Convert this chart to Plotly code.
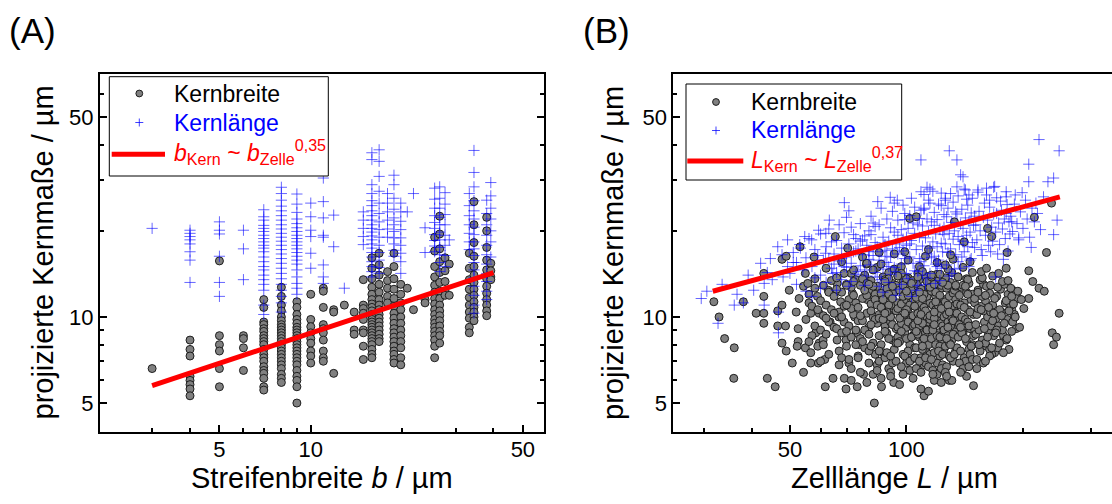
import plotly.graph_objects as go

FONT = "Arial, Liberation Sans, sans-serif"
W, H = 1112, 504

# ---------------- Panel A data (stripe width b in um) ----------------
a_widths = [3, 4, 5, 6, 7, 8, 9, 10, 11, 11.9, 12.9, 13.9, 14.9, 15.9, 16.8, 17.9,
            18.8, 19.8, 20.8, 21.8, 23.8, 25.6, 26.6, 27.7, 28.6, 33.3, 34.5, 38.0, 39.2]

a_kernbreite = [
    [6.6],
    [8.3, 7.7, 7.3, 6.2, 6.0, 5.8, 5.6, 5.3],
    [15.7, 8.6, 8.0, 7.6, 6.6, 5.7],
    [8.6, 8.4, 7.8, 6.5],
    [11.5, 10.8, 9.6, 9.4, 9.1, 8.9, 8.6, 8.4, 8.2, 8.0, 7.7, 7.4, 7.2, 7.0, 6.7, 6.5, 6.35, 6.1, 5.7, 5.55],
    [12.7, 11.8, 11.0, 10.5, 10.0, 9.7, 9.4, 9.2, 9.0, 8.8, 8.6, 8.4, 8.2, 8.0, 7.8, 7.6, 7.4, 7.2, 7.0, 6.8, 6.6, 6.3, 6.1, 5.9],
    [11.3, 10.8, 10.2, 9.8, 9.5, 9.2, 9.0, 8.8, 8.6, 8.4, 8.2, 8.0, 7.8, 7.6, 7.4, 7.2, 7.0, 6.8, 6.5, 6.2, 6.0, 5.7, 5.0],
    [12.0, 9.8, 9.25, 8.8, 8.4, 8.1, 7.6, 7.3, 6.9],
    [12.6, 12.3, 10.8, 9.4, 9.1, 8.8, 8.3, 7.6, 7.2, 7.0],
    [10.6, 10.4, 6.35],
    [11.0],
    [10.4, 9.0, 8.7],
    [13.5, 11.0, 10.7, 10.3, 9.8, 9.0, 8.8, 7.9, 7.1],
    [16.1, 14.8, 13.6, 12.7, 12.0, 11.5, 11.1, 10.8, 10.5, 10.2, 10.0, 9.8, 9.6, 9.4, 9.2, 9.0, 8.8, 8.6, 8.4, 8.2, 8.0, 7.7, 7.4, 7.2],
    [16.7, 15.2, 14.0, 13.0, 12.2, 11.5, 11.0, 10.6, 10.2, 9.9, 9.6, 9.3, 9.0, 8.7, 8.4, 8.2],
    [14.4, 13.4, 12.6, 11.8, 11.2],
    [16.7, 15.0, 13.6, 12.5, 11.6, 10.9, 10.3, 9.9, 9.5, 9.1, 8.8, 8.5, 8.2, 7.9, 7.6, 7.4, 7.1, 6.9],
    [13.0, 12.0, 11.2, 10.6, 10.0, 9.5, 9.0, 8.6, 8.2, 7.8, 7.2, 6.8],
    [12.6],
    [10.6],
    [11.5, 11.2],
    [19.0, 17.0, 15.0, 13.8, 12.9, 12.2, 11.6, 11.1, 10.6, 10.2, 9.8, 9.5, 9.2, 8.9, 8.6, 8.3, 7.9, 7.2],
    [22.5, 19.5, 17.3, 15.6, 14.3, 13.2, 12.3, 11.6, 11.0, 10.5, 10.1, 9.7, 9.3, 8.9, 8.6, 8.1],
    [16.1, 14.5, 13.3, 12.3, 11.9],
    [15.3, 11.9],
    [16.7, 14.8, 13.5, 12.5, 11.7, 11.0, 10.4, 9.9, 9.2, 8.8],
    [25.3, 21.0, 18.2, 16.3, 15.0, 14.0, 13.2, 12.5, 11.9, 11.3, 10.8, 10.4, 10.0, 9.7],
    [22.3, 20.0, 17.5, 15.8, 14.6, 13.6, 12.8, 12.1, 11.5, 11.0, 10.5, 10.1],
    [15.4, 14.5, 13.8, 13.5],
]

a_kernlaenge = [
    [20.4],
    [20.1, 19.6, 19.1, 18.6, 18.0, 16.9, 15.8, 13.2],
    [21.5, 20.1, 19.5, 16.3, 13.2, 11.8],
    [20.1, 17.3, 13.5],
    [23.7, 22.4, 21.8, 20.9, 20.4, 19.9, 19.3, 18.8, 18.3, 17.8, 17.4, 16.9, 16.2, 15.6, 15.0, 14.6, 14.0, 13.5, 13.0, 12.4, 11.0, 10.2],
    [28.4, 27.0, 25.6, 24.4, 23.5, 22.6, 21.8, 21.0, 20.3, 19.6, 19.0, 18.4, 17.8, 17.2, 16.6, 16.0, 15.4, 14.8, 14.2, 13.6, 13.0, 12.4, 11.8, 11.2, 10.4],
    [26.9, 24.8, 23.2, 22.0, 21.2, 20.5, 19.9, 19.3, 18.8, 18.3, 17.8, 17.3, 16.8, 16.3, 15.8, 15.3, 14.6, 13.8, 13.1, 12.6, 12.0],
    [25.0, 22.4, 20.1, 19.1, 16.7, 14.8],
    [30.6, 25.3, 22.2, 19.3, 19.0, 15.2, 13.8, 13.1],
    [22.7, 17.6],
    [12.6],
    [],
    [23.3, 21.8, 20.4, 19.1, 17.9],
    [37.5, 35.5, 29.0, 27.0, 25.5, 24.5, 23.5, 22.6, 21.8, 21.0, 20.4, 19.8, 19.2, 18.6, 18.0, 17.4, 16.8, 16.2, 15.6, 15.0, 14.4, 13.8],
    [38.4, 35.0, 31.0, 27.5, 25.0, 23.0, 21.5, 20.2, 19.0, 17.8, 16.8, 15.8, 14.9, 14.2],
    [27.0, 25.0, 23.3, 21.8, 20.3, 19.0],
    [31.3, 29.0, 26.0, 23.8, 22.2, 21.0, 19.9, 18.9, 18.0, 17.1, 16.3],
    [25.0, 23.3, 21.6, 20.2, 18.9, 17.8, 16.7, 15.6, 14.2],
    [23.3],
    [27.0],
    [20.5, 16.8],
    [28.2, 25.8, 24.0, 22.6, 21.4, 20.4, 19.4, 18.5, 17.7, 16.9],
    [28.5, 26.0, 24.0, 22.3, 21.0, 19.8, 18.6, 17.5, 16.5, 15.5, 14.4],
    [27.2, 24.8, 22.8, 21.0, 19.3, 17.8, 16.4, 15.0],
    [18.6],
    [27.0, 24.5, 22.6, 21.0, 19.6, 18.3, 17.2],
    [38.2, 32.0, 28.5, 25.5, 23.5, 22.0, 20.6, 19.4, 18.3, 17.3, 16.4, 15.5, 14.6, 13.7, 12.8, 11.9, 11.0, 10.3],
    [25.6, 23.0, 21.0, 19.3, 17.8, 16.5, 15.3, 14.2, 13.3, 12.3, 11.5],
    [29.5, 26.5, 24.0, 22.0, 20.0, 18.3, 16.2],
]

a_fit_x = [3.0, 40.0]
a_fit_y = [5.75, 14.3]

# ---------------- Panel B data (cell length L in um) ----------------
b_breite_L = [
    31.8, 32.8, 33.9, 35.9, 35.8, 37.9, 40.9, 42.8, 42.8, 42.8, 42.8, 43.7, 45.8, 46.5, 46.5, 47.7, 47.7, 48.9,
    47.7, 48.9, 49.8, 48.7, 51.9, 52.5, 52.2, 50.7, 53.1, 52.8, 52.5, 54.2, 54.8, 54.2, 54.8, 55.6, 56.0, 56.6,
    56.6, 56.6, 57.7, 58.3, 58.9, 59.5, 59.5, 60.9, 59.2, 61.5, 61.7, 63.5, 62.8, 64.6, 65.5, 66.2, 66.2, 67.6,
    66.9, 69.1, 69.8, 69.8, 70.5, 71.0, 72.0, 72.5, 73.5, 74.3, 74.6, 75.6, 77.5, 78.8, 79.2, 82.6, 84.3, 86.2,
    87.0, 88.9, 92.7, 102, 106, 111, 118, 129, 143, 149, 133, 141, 162, 166, 169, 167, 162, 181, 182, 187, 187,
    192, 195, 207, 212, 220, 227, 207, 214, 230, 237, 248, 238, 244, 240,
    55, 56, 57, 57, 58, 58, 59, 60, 60, 61, 61, 62, 62, 63, 63, 64, 64, 65, 56, 59, 60, 62, 63, 58, 61,
    65, 66, 66, 67, 67, 68, 68, 69, 69, 70, 70, 71, 71, 72, 72, 73, 73, 74, 74, 75, 66, 68, 70, 72, 74, 67, 69,
    71, 73, 75, 65, 70, 72, 68, 74,
    75, 76, 76, 77, 77, 78, 78, 79, 79, 80, 80, 80, 81, 81, 82, 82, 83, 83, 84, 84, 85, 85, 76, 77, 78, 79, 80,
    81, 82, 83, 84, 85, 75, 77, 79, 81, 83, 85, 76, 78, 80, 82, 84, 79, 81,
    85, 86, 86, 87, 87, 88, 88, 88, 89, 89, 90, 90, 90, 91, 91, 92, 92, 92, 93, 93, 94, 94, 95, 95, 86, 87, 88,
    89, 90, 91, 92, 93, 94, 95, 86, 88, 90, 92, 94, 87, 89, 91, 93, 95, 85, 90, 92, 88, 94, 91,
    95, 96, 96, 97, 97, 98, 98, 98, 99, 99, 100, 100, 100, 101, 101, 102, 102, 102, 103, 103, 104, 104, 105, 105,
    96, 97, 98, 99, 100, 101, 102, 103, 104, 105, 96, 98, 100, 102, 104, 97, 99, 101, 103, 105, 95, 100, 102, 98,
    104, 101, 97, 103, 99, 100, 105,
    105, 106, 106, 107, 107, 108, 108, 108, 109, 109, 110, 110, 110, 111, 111, 112, 112, 112, 113, 113, 114, 114,
    115, 115, 106, 107, 108, 109, 110, 111, 112, 113, 114, 115, 106, 108, 110, 112, 114, 107, 109, 111, 113, 115,
    105, 110, 112, 108, 114, 111, 107, 113, 109, 110, 106,
    115, 116, 116, 117, 117, 118, 118, 119, 119, 120, 120, 120, 121, 121, 122, 122, 123, 123, 124, 124, 125, 125,
    116, 117, 118, 119, 120, 121, 122, 123, 124, 125, 116, 118, 120, 122, 124, 117, 119, 121, 123, 125, 115, 120,
    122, 118, 124, 121, 119, 123,
    125, 126, 126, 127, 127, 128, 128, 129, 129, 130, 130, 131, 131, 132, 132, 133, 133, 134, 134, 135, 126, 127,
    128, 129, 130, 131, 132, 133, 134, 135, 126, 128, 130, 132, 134, 127, 129, 131, 133, 135, 130, 128,
    135, 136, 137, 137, 138, 139, 139, 140, 141, 141, 142, 143, 143, 144, 145, 145, 146, 147, 148, 149, 150, 136,
    138, 140, 142, 144, 146, 148, 150, 137, 139, 141, 143, 145, 147, 149, 140, 144, 146, 138, 142, 148,
    150, 151, 152, 153, 154, 155, 156, 157, 158, 159, 160, 161, 162, 163, 164, 165, 166, 167, 168, 170, 152, 155,
    158, 161, 164, 167, 153, 157, 160, 165,
    171, 173, 175, 176, 178, 180, 182, 183, 185, 187, 190, 193, 172, 177, 179, 184, 188, 174, 181, 186,
    151, 153, 154, 156, 157, 159, 160, 162, 163, 165, 166, 168, 169, 171, 172, 174, 176, 177, 179, 181, 182, 184,
    186, 188, 189, 191, 194, 196, 198, 201, 156, 161, 167, 173, 178, 183, 187, 158, 164, 170,
    62, 68, 73, 77, 82, 86, 90, 93, 97, 101, 104, 108, 112, 116, 120, 124, 128, 132, 136, 140, 144, 148, 80, 88,
    95, 103, 110, 118, 126, 134, 142, 70, 85, 99, 114, 130, 146, 92, 107, 122,
    72, 79, 84, 91, 96, 104, 109, 117, 123, 131, 138, 145, 152, 160, 114, 127,
]
b_kernbreite = [
    11.3, 10.0, 8.4, 7.8, 6.1, 11.3, 10.3, 10.3, 9.5, 11.8, 14.2, 6.1, 5.7, 10.5, 9.3, 11.0, 15.9, 16.3,
    8.1, 7.6, 12.4, 9.3, 10.4, 8.2, 7.9, 6.9, 17.6, 11.6, 9.1, 12.8, 14.2, 6.4, 7.8, 13.1, 11.2, 10.3,
    7.5, 6.9, 16.2, 8.8, 11.8, 10.3, 8.1, 8.3, 6.9, 7.1, 5.7, 9.6, 12.4, 6.1, 19.1, 13.1, 8.3, 11.3,
    10.0, 6.1, 5.6, 8.3, 17.4, 6.9, 14.2, 12.1, 10.0, 8.8, 5.7, 8.0, 6.3, 15.3, 11.5, 5.0, 12.8, 5.7,
    7.5, 8.8, 5.9, 22.1, 22.4, 5.3, 6.0, 6.0, 6.2, 5.75, 21.5, 18.3, 20.4, 19.1, 7.5, 8.8, 9.0, 14.8, 16.8, 10.6, 9.7,
    9.1, 11.6, 14.5, 13.3, 12.6, 12.3, 11.6, 22.3, 16.8, 25.0, 10.3, 8.8, 8.5, 8.0,
    9.8, 12.0, 8.6, 10.9, 9.3, 12.6, 7.9, 11.4, 9.0, 10.1, 12.9, 8.7, 11.0, 9.6, 7.4, 10.6, 13.4, 9.2, 8.2, 10.6,
    7.0, 9.9, 12.2, 13.6, 8.0,
    11.8, 9.1, 13.7, 10.4, 7.6, 12.2, 8.8, 10.9, 9.6, 13.0, 7.9, 11.5, 9.3, 12.7, 8.5, 10.2, 14.6, 9.0, 11.2, 7.3,
    12.5, 10.0, 8.9, 10.7, 13.5, 6.8, 14.2, 7.1, 11.9, 9.7, 10.3, 11.0, 6.6, 7.2, 8.0,
    10.8, 8.4, 12.9, 9.7, 11.6, 7.8, 14.0, 10.3, 8.9, 12.3, 9.2, 6.9, 11.1, 13.4, 8.1, 10.0, 12.0, 7.4, 9.5, 14.9,
    11.3, 8.6, 6.4, 13.6, 9.0, 11.9, 7.6, 10.5, 12.8, 9.8, 6.8, 10.2, 7.2, 8.2, 13.1, 9.4, 11.5, 7.0, 10.1, 12.4,
    8.7, 6.3, 11.0, 15.4, 7.9,
    9.9, 12.1, 8.0, 10.6, 13.8, 9.3, 11.4, 7.2, 12.6, 8.7, 10.2, 14.3, 6.6, 9.6, 11.8, 8.3, 13.1, 10.9, 7.7, 12.2,
    9.1, 10.5, 11.2, 8.5, 6.1, 9.8, 13.5, 7.5, 11.0, 10.0, 6.9, 12.8, 8.1, 13.9, 10.8, 8.9, 12.0, 9.4, 7.0, 11.5,
    10.4, 6.4, 14.7, 9.2, 7.6, 8.4, 11.6, 10.3, 12.9, 7.3,
    10.7, 8.2, 12.4, 9.5, 11.1, 7.4, 13.2, 10.0, 8.8, 12.0, 9.2, 11.5, 6.9, 10.4, 13.7, 8.0, 9.8, 12.7, 7.1, 11.3,
    10.1, 8.6, 12.2, 9.0, 14.5, 6.7, 11.8, 10.2, 8.4, 7.6, 11.0, 9.4, 13.0, 7.8, 9.9, 12.9, 10.6, 6.5, 11.6, 8.9,
    7.3, 9.6, 12.5, 10.9, 8.1, 13.6, 7.0, 6.3, 9.3, 11.9, 15.0, 8.5, 10.3, 12.3, 7.2,
    9.4, 11.7, 7.8, 10.3, 12.8, 8.5, 9.9, 13.5, 7.2, 11.0, 10.6, 8.2, 12.4, 9.1, 6.8, 11.4, 8.8, 13.9, 10.0, 7.5,
    12.1, 9.6, 8.3, 11.2, 6.6, 14.2, 9.3, 12.5, 7.7, 10.8, 6.9, 11.8, 8.0, 9.8, 13.1, 7.0, 9.5, 10.5, 12.7, 8.7,
    6.4, 12.0, 9.0, 7.4, 10.9, 11.6, 7.2, 12.2, 6.7, 8.4, 9.7, 13.3, 10.2, 7.9, 8.9,
    10.1, 8.4, 12.3, 9.2, 11.0, 7.5, 13.0, 10.6, 8.0, 9.7, 12.0, 6.9, 11.4, 8.8, 10.3, 7.3, 12.6, 9.5, 11.1, 8.2,
    10.0, 7.7, 13.8, 6.5, 9.9, 11.8, 8.6, 10.9, 7.9, 12.9, 9.3, 11.5, 7.1, 10.4, 14.1, 8.5, 6.8, 9.0, 12.2, 7.6,
    10.7, 8.9, 12.7, 6.3, 11.9, 9.4, 7.4, 13.4, 11.3, 6.6,
    9.0, 11.3, 7.9, 10.2, 12.6, 8.6, 9.6, 11.8, 7.3, 10.8, 13.2, 8.3, 9.9, 12.1, 7.0, 10.5, 8.9, 11.5, 7.6, 9.4,
    13.7, 6.7, 12.9, 8.1, 9.3, 10.9, 8.7, 12.4, 10.0, 7.8, 6.4, 11.0, 7.2, 9.7, 12.8, 8.4, 10.4, 14.3, 7.4, 11.1,
    8.0, 9.2,
    10.3, 8.5, 11.9, 9.4, 7.6, 12.7, 10.0, 8.8, 11.2, 7.2, 9.8, 12.2, 8.2, 10.6, 7.7, 13.1, 9.1, 11.5, 8.0, 10.2,
    9.0, 13.8, 11.0, 12.9, 7.0, 9.6, 7.4, 12.0, 11.2, 6.9, 8.8, 10.8, 13.6, 9.3, 7.9, 8.6, 6.6, 12.0, 10.4, 9.2,
    8.4, 7.1,
    11.6, 8.7, 10.2, 12.4, 9.0, 7.6, 10.9, 8.3, 13.0, 9.6, 11.4, 7.9, 10.0, 8.8, 12.1, 9.3, 7.4, 11.0, 8.6, 9.8,
    7.1, 13.5, 10.5, 12.8, 7.7, 9.7, 10.7, 11.8, 8.1, 10.4,
    11.8, 9.3, 12.5, 10.4, 8.6, 11.2, 9.8, 12.0, 10.9, 8.9, 10.2, 11.6, 7.8, 9.0, 13.0, 7.7, 12.4, 10.6, 8.3, 11.0,
    9.4, 12.2, 8.0, 10.6, 13.7, 9.1, 11.9, 8.5, 10.8, 12.9, 7.8, 10.3, 11.6, 9.0, 12.7, 8.1, 10.1, 13.3, 9.5, 11.4,
    8.4, 10.5, 12.6, 9.6, 11.1, 10.0, 12.3, 9.2, 11.5, 10.7, 14.4, 14.8, 13.9, 14.2, 7.5, 13.4, 11.8, 6.9, 7.3, 8.8,
    14.8, 15.6, 13.3, 16.2, 14.6, 15.3, 13.6, 16.6, 14.2, 15.8, 13.4, 15.0, 16.3, 14.0, 15.5, 13.2, 14.7, 15.9,
    13.8, 14.9, 13.5, 14.3, 13.0, 13.3, 13.9, 13.1, 14.4, 13.0, 15.2, 12.9, 12.8, 12.9, 16.8, 16.9, 17.2, 16.5,
    15.6, 12.8, 13.8, 14.1,
    6.0, 5.9, 6.5, 6.2, 5.8, 6.1, 5.6, 6.3, 5.9, 6.0, 6.4, 6.7, 6.6, 7.0, 5.5, 6.2,
]

b_laenge_L = [
    220, 248, 129, 109, 135, 207, 207, 232, 240, 138, 245, 240, 195, 170, 33.4, 32.6, 35.9, 37.9, 42.9, 42.9,
    46.7, 46.7, 46.5, 49.3, 47.7, 49.3, 42.0, 43.7, 45.0, 40.3, 53.2, 54.6, 56.9, 59.3, 61.9, 63.2, 69.1, 61.8,
    64.5, 84.3, 90.8, 94.7, 111, 113, 109, 123, 126, 140, 145, 153, 161, 168, 181, 191, 181, 187, 171, 164,
    30.5, 29.5, 36.5, 39.0, 44.5, 48.0, 51.0,
    50, 51, 52, 52, 53, 54, 55, 55, 56, 57, 58, 58, 59, 60, 60, 61, 62, 62, 63, 64, 64, 65, 57, 60, 63,
    65, 66, 66, 67, 68, 68, 69, 70, 70, 71, 72, 72, 73, 74, 74, 75, 76, 76, 77, 78, 78, 79, 80, 80, 66, 68, 70,
    72, 74, 76, 78, 80, 67, 69, 71, 73, 75, 77, 79, 71,
    80, 81, 81, 82, 83, 83, 84, 85, 85, 86, 87, 87, 88, 89, 89, 90, 91, 91, 92, 93, 93, 94, 95, 95, 96, 97, 97,
    98, 99, 99, 100, 82, 84, 86, 88, 90, 92, 94, 96, 98, 100, 81, 85, 89, 93, 97, 83, 87, 91, 95, 99, 86, 90, 94, 98,
    100, 101, 102, 102, 103, 104, 105, 105, 106, 107, 108, 108, 109, 110, 110, 111, 112, 113, 113, 114, 115, 115,
    116, 117, 118, 118, 119, 120, 120, 121, 122, 123, 123, 124, 125, 101, 103, 105, 107, 109, 111, 113, 115, 117,
    119, 121, 123, 125, 102, 106, 110, 114, 118, 122, 104, 108, 112, 116, 120, 124, 107, 111, 119, 103, 115,
    125, 126, 127, 128, 128, 129, 130, 131, 132, 132, 133, 134, 135, 136, 136, 137, 138, 139, 140, 140, 141, 142,
    143, 144, 144, 145, 146, 147, 148, 149, 150, 127, 130, 133, 136, 139, 142, 145, 148, 126, 131, 135, 138, 143,
    147, 129, 134, 141, 146, 150,
    151, 152, 154, 155, 156, 158, 159, 160, 162, 163, 164, 166, 167, 168, 170, 171, 173, 174, 176, 177, 179, 180,
    182, 184, 185, 153, 157, 161, 165, 169, 172, 175, 178, 181, 183,
    186, 188, 190, 193, 195, 197, 200, 203, 205, 208, 211, 214, 218, 222, 226, 199, 210, 216,
]
b_kernlaenge = [
    41.7, 38.1, 38.1, 35.4, 35.4, 34.2, 29.7, 29.7, 30.6, 31.4, 21.8, 19.4, 18.9, 13.8, 13.0, 9.5, 11.0, 11.2, 13.1, 11.0,
    10.4, 8.8, 17.6, 18.6, 16.5, 15.0, 15.4, 14.3, 13.5, 12.4, 17.4, 19.1, 18.6, 20.1, 19.6, 21.8, 25.1, 16.7,
    14.2, 25.3, 26.2, 25.6, 23.8, 28.4, 27.4, 27.1, 25.6, 30.9, 26.7, 27.8, 28.2, 28.4, 27.4, 26.7, 26.3, 21.5, 23.0, 25.6,
    12.3, 11.6, 12.0, 14.0, 16.0, 13.8, 15.5,
    14.2, 16.8, 13.0, 15.5, 17.9, 14.6, 16.1, 12.3, 18.8, 15.0, 13.7, 17.2, 16.4, 14.0, 19.5, 15.8, 13.2, 17.6, 16.0,
    14.8, 18.3, 15.3, 11.8, 12.6, 20.3,
    16.6, 14.3, 18.5, 15.7, 17.4, 13.5, 19.7, 16.2, 14.9, 18.0, 15.4, 20.6, 16.9, 14.1, 18.8, 17.3, 15.1, 21.2, 16.5,
    14.6, 19.2, 17.8, 15.9, 20.0, 12.4, 16.0, 22.3, 13.3, 17.0, 18.4, 12.9, 16.9, 21.0, 15.0, 12.8, 19.4, 14.4, 18.6,
    13.9, 23.5,
    17.0, 15.2, 19.4, 16.4, 14.3, 18.2, 17.6, 15.8, 21.0, 16.9, 14.7, 19.0, 17.9, 15.5, 22.0, 18.4, 16.2, 20.5, 17.3,
    14.9, 19.8, 18.0, 16.6, 21.8, 17.5, 15.3, 20.2, 18.7, 16.0, 23.0, 19.0, 21.3, 13.8, 24.0, 16.3, 13.2, 23.4, 14.4,
    12.5, 24.6, 14.2, 22.5, 12.8, 17.1, 25.0, 13.0, 20.7, 12.2, 14.1, 19.3, 21.9, 13.5, 15.0, 11.9, 17.0,
    17.8, 20.4, 16.2, 22.6, 18.5, 15.4, 19.6, 24.2, 17.2, 21.0, 16.0, 19.0, 23.6, 17.7, 20.8, 15.1, 18.9, 22.0, 16.6,
    19.9, 17.4, 25.0, 21.5, 18.3, 16.3, 23.2, 19.5, 17.6, 21.9, 15.8, 20.3, 18.1, 24.5, 16.9, 19.4, 13.6, 26.0, 14.5,
    12.9, 15.6, 26.8, 13.7, 14.2, 27.5, 13.1, 24.8, 14.8, 22.8, 18.0, 12.4, 14.0, 25.6, 20.9, 13.4, 21.3, 22.1, 13.0,
    16.1, 15.0, 20.0, 14.4, 24.0, 15.3, 11.8, 28.0,
    20.6, 18.0, 22.4, 16.8, 24.0, 19.6, 17.3, 21.4, 18.7, 25.2, 20.0, 16.5, 22.9, 19.1, 26.5, 17.9, 21.1, 23.8, 18.4,
    20.4, 16.9, 22.2, 19.3, 24.6, 17.6, 21.6, 19.8, 23.1, 18.2, 20.9, 22.5, 15.2, 27.0, 14.7, 15.6, 16.2, 27.8, 15.0,
    26.0, 26.0, 14.2, 28.5, 14.8, 25.8, 16.0, 13.9, 23.3, 28.0, 15.8, 17.5,
    21.0, 18.6, 23.4, 20.0, 17.2, 22.3, 25.0, 19.3, 21.8, 17.8, 24.2, 20.6, 18.4, 22.9, 19.8, 26.1, 21.3, 17.9, 23.6,
    20.3, 22.0, 18.8, 24.7, 21.5, 19.5, 27.3, 16.4, 26.7, 16.9, 28.6, 16.6, 25.4, 15.9, 23.0, 17.0,
    22.5, 19.9, 24.8, 21.2, 18.6, 23.3, 20.4, 25.6, 22.0, 19.0, 24.0, 21.5, 23.0, 20.2, 26.3, 27.2, 17.5, 25.0,
]

b_fit_x = [31.6, 249.0]
b_fit_y = [12.3, 26.3]

# axis ticks
a_x_ticks = [5, 10, 50]
a_x_minor = [3, 4, 6, 7, 8, 9, 20, 30, 40]
b_x_ticks = [50, 100]
b_x_minor = [30, 40, 60, 70, 80, 90, 200, 300]
y_ticks = [5, 10, 50]
y_minor = [6, 7, 8, 9, 20, 30, 40, 60]

# legend texts
leg_labels = ["Kernbreite", "Kernlänge"]
fit_label_a = "<i>b</i><sub>Kern</sub> ~ <i>b</i><sub>Zelle</sub><sup>0,35</sup>"
fit_label_b = "<i>L</i><sub>Kern</sub> ~ <i>L</i><sub>Zelle</sub><sup>0,37</sup>"

# ---------------- build flat series for panel A ----------------
a_x_circ, a_y_circ, a_x_plus, a_y_plus = [], [], [], []
for w, vals in zip(a_widths, a_kernbreite):
    a_x_circ += [w] * len(vals)
    a_y_circ += vals
for w, vals in zip(a_widths, a_kernlaenge):
    a_x_plus += [w] * len(vals)
    a_y_plus += vals

n1 = min(len(b_breite_L), len(b_kernbreite))
n2 = min(len(b_laenge_L), len(b_kernlaenge))

GRAY_FILL, GRAY_EDGE = "#808080", "#1e1e1e"
BLUE = "rgba(0,0,255,0.6)"
GRAY = dict(symbol="circle", size=8, color=GRAY_FILL, line=dict(color=GRAY_EDGE, width=1))
PLUS = dict(symbol="cross-thin", size=8, color=BLUE, line=dict(color=BLUE, width=1))

fig = go.Figure()


def add_panel(xa, ya, xc, yc, xp, yp, fx, fy):
    fig.add_trace(go.Scatter(x=xc, y=yc, mode="markers", marker=GRAY, name="Kernbreite",
                             xaxis=xa, yaxis=ya, showlegend=False))
    fig.add_trace(go.Scatter(x=xp, y=yp, mode="markers", marker=PLUS, name="Kernlänge",
                             xaxis=xa, yaxis=ya, showlegend=False))
    fig.add_trace(go.Scatter(x=fx, y=fy, mode="lines", line=dict(color="#ff0000", width=5),
                             name="Fit", xaxis=xa, yaxis=ya, showlegend=False))


add_panel("x", "y", a_x_circ, a_y_circ, a_x_plus, a_y_plus, a_fit_x, a_fit_y)
add_panel("x2", "y2", b_breite_L[:n1], b_kernbreite[:n1], b_laenge_L[:n2], b_kernlaenge[:n2], b_fit_x, b_fit_y)

tickfont = dict(family=FONT, size=22, color="black")


def axis(dom, rng, tv, minor, mirror, anchor, standoff=0):
    return dict(type="log", domain=dom, range=rng, anchor=anchor, showgrid=False, zeroline=False,
                showline=True, linecolor="black", linewidth=2, mirror=mirror,
                ticks="inside", ticklen=7, tickwidth=1.5, tickcolor="black",
                tickmode="array", tickvals=tv, ticktext=[str(v) for v in tv], tickfont=tickfont,
                ticklabelstandoff=standoff,
                minor=dict(ticks="inside", ticklen=4, tickwidth=1.5, tickcolor="black",
                           tickmode="array", tickvals=minor, showgrid=False))


ydom = [1 - 432 / H, 1 - 74 / H]
yrng = [0.5977, 1.8494]

fig.update_layout(
    width=W, height=H, autosize=False,
    margin=dict(l=0, r=0, t=0, b=0, pad=0),
    paper_bgcolor="white", plot_bgcolor="white",
    font=dict(family=FONT, color="black"),
    xaxis=axis([100 / W, 544 / W], [0.3054, 1.7686], a_x_ticks, a_x_minor, True, "y", -3),
    yaxis=axis(ydom, yrng, y_ticks, y_minor, "allticks", "x"),
    xaxis2=axis([673.4 / W, 1.0], [1.3979, 2.531], b_x_ticks, b_x_minor, True, "y2", -3),
    yaxis2=axis(ydom, yrng, y_ticks, y_minor, False, "x2"),
    showlegend=False,
)


# ---------------- hand-built legends (pixel geometry -> paper) ----------------
def px(x):
    return x / W


def py(y):
    return 1 - y / H


shapes, ann = [], []


def legend_box(x0, x1, y0, y1, sx, rows, line_x0, line_x1, tx, fit_text):
    shapes.append(dict(type="rect", x0=px(x0), x1=px(x1), y0=py(y1), y1=py(y0),
                       line=dict(color="black", width=1), fillcolor="white"))
    r = 3.4
    shapes.append(dict(type="circle", x0=px(sx - r), x1=px(sx + r), y0=py(rows[0] + r), y1=py(rows[0] - r),
                       fillcolor=GRAY_FILL, line=dict(color=GRAY_EDGE, width=1)))
    a = 4
    shapes.append(dict(type="line", x0=px(sx - a), x1=px(sx + a), y0=py(rows[1]), y1=py(rows[1]),
                       line=dict(color="rgba(0,0,255,0.75)", width=1)))
    shapes.append(dict(type="line", x0=px(sx), x1=px(sx), y0=py(rows[1] - a), y1=py(rows[1] + a),
                       line=dict(color="rgba(0,0,255,0.75)", width=1)))
    shapes.append(dict(type="line", x0=px(line_x0), x1=px(line_x1), y0=py(rows[2]), y1=py(rows[2]),
                       line=dict(color="#ff0000", width=5)))
    ann.append(dict(text=leg_labels[0], x=px(tx), y=py(rows[0]), xanchor="left", yanchor="middle",
                    font=dict(size=23, color="black")))
    ann.append(dict(text=leg_labels[1], x=px(tx), y=py(rows[1]), xanchor="left", yanchor="middle",
                    font=dict(size=23, color="#0000ff")))
    ann.append(dict(text=fit_text, x=px(tx), y=py(rows[2] - 2), xanchor="left", yanchor="middle",
                    font=dict(size=23, color="#ff0000")))


legend_box(109.3, 328.3, 76.7, 176, 139.3, [93.5, 122.5, 154.3], 111.7, 165, 171.5, fit_label_a)
legend_box(686, 901.7, 84, 180, 716, [102, 130.5, 161], 687.3, 743.3, 748.5, fit_label_b)
for s in shapes:
    s.update(xref="paper", yref="paper", layer="above")

ann.append(dict(text="(A)", x=px(7), y=py(30), xanchor="left", yanchor="middle", font=dict(size=35)))
ann.append(dict(text="(B)", x=px(581), y=py(30), xanchor="left", yanchor="middle", font=dict(size=35)))
ann.append(dict(text="Streifenbreite <i>b</i> / µm", x=px(322), y=py(478), xanchor="center",
                yanchor="middle", font=dict(size=29)))
ann.append(dict(text="Zelllänge <i>L</i> / µm", x=px(894), y=py(478), xanchor="center",
                yanchor="middle", font=dict(size=29)))
ann.append(dict(text="projizierte Kernmaße / µm", x=px(42.5), y=py(253), xanchor="center",
                yanchor="middle", textangle=-90, font=dict(size=29)))
ann.append(dict(text="projizierte Kernmaße / µm", x=px(613), y=py(253), xanchor="center",
                yanchor="middle", textangle=-90, font=dict(size=29)))
for a in ann:
    a.update(xref="paper", yref="paper", showarrow=False)
    a["font"].setdefault("color", "black")
    a["font"]["family"] = FONT

fig.update_layout(shapes=shapes, annotations=ann)

fig.write_html("out.html", config={"displayModeBar": False},
               post_script="document.body.style.margin='0px';document.body.style.overflow='hidden';")
